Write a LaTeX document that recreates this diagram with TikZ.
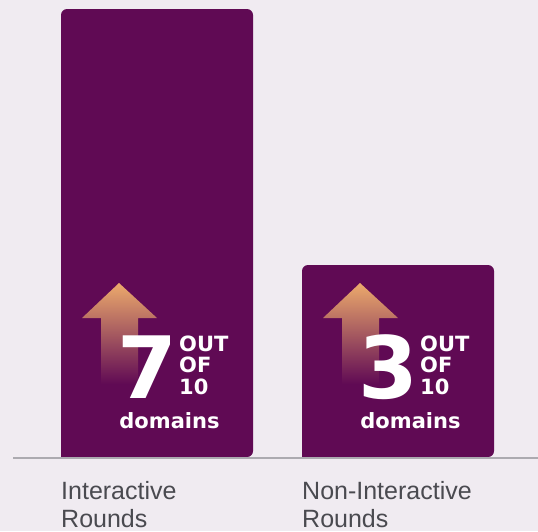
\documentclass[tikz,border=0pt]{standalone}
\usepackage{fontspec}
\setmainfont{Liberation Sans}
\newfontfamily\figfont{DejaVu Sans}
\usetikzlibrary{positioning}

\definecolor{bgcol}{RGB}{240,235,241}
\definecolor{barcol}{RGB}{96,10,84}
\definecolor{arrowcol}{RGB}{236,170,108}
\definecolor{axiscol}{RGB}{172,170,176}
\definecolor{labelcol}{RGB}{74,74,80}

\begin{document}
\begin{tikzpicture}[x=1pt,y=-1pt,
  bignum/.style={text=white,font=\figfont\fontsize{86}{86}\selectfont\bfseries,inner sep=0pt,anchor=base west,text height=63pt,text depth=0pt},
  outof/.style={text=white,font=\figfont\fontsize{21}{21}\selectfont\bfseries,inner sep=0pt,anchor=base west,text height=15pt,text depth=0pt},
  domword/.style={text=white,font=\figfont\fontsize{21}{21}\selectfont\bfseries,inner sep=0pt,anchor=base,text height=15pt,text depth=0pt},
  barlabel/.style={text=labelcol,font=\fontsize{25}{28}\selectfont,inner sep=0pt,anchor=base west}]
  \fill[bgcol] (0,0) rectangle (538,531);
  \useasboundingbox (0,0) rectangle (538,531);

  % bars with arrows and counts
  \foreach \num/\dx/\top/\name/\lab in {7/0/9/inter/Interactive, 3/241/265/noninter/Non-Interactive}{
    \begin{scope}[xshift=\dx]
      \fill[barcol,rounded corners=6pt] (61,457) -- (61,\top) -- (253,\top) -- (253,457) [sharp corners] -- cycle;
      \shade[top color=arrowcol,bottom color=barcol]
        (119,283) -- (157,318) -- (138,318) -- (138,384) -- (101,384) -- (101,318) -- (82,318) -- cycle;
      \node[bignum] (\name-num) at (117,398) {\num};
      \node[outof] (\name-out) at (179,351) {OUT};
      \node[outof] (\name-of) at (179,372.5) {OF};
      \node[outof] (\name-ten) at (179,394) {10};
      \node[domword] (\name-dom) at (169.5,428) {domains};
      \node[barlabel] (\name-lab) at (61,499) {\lab};
      \node[barlabel] (\name-rnd) at (61,527) {Rounds};
    \end{scope}
  }

  % axis
  \coordinate (axisL) at (13,457.5);
  \coordinate (axisR) at (538,457.5);
  \draw[axiscol,line width=2pt] (axisL) -- (axisR);
\end{tikzpicture}
\end{document}
